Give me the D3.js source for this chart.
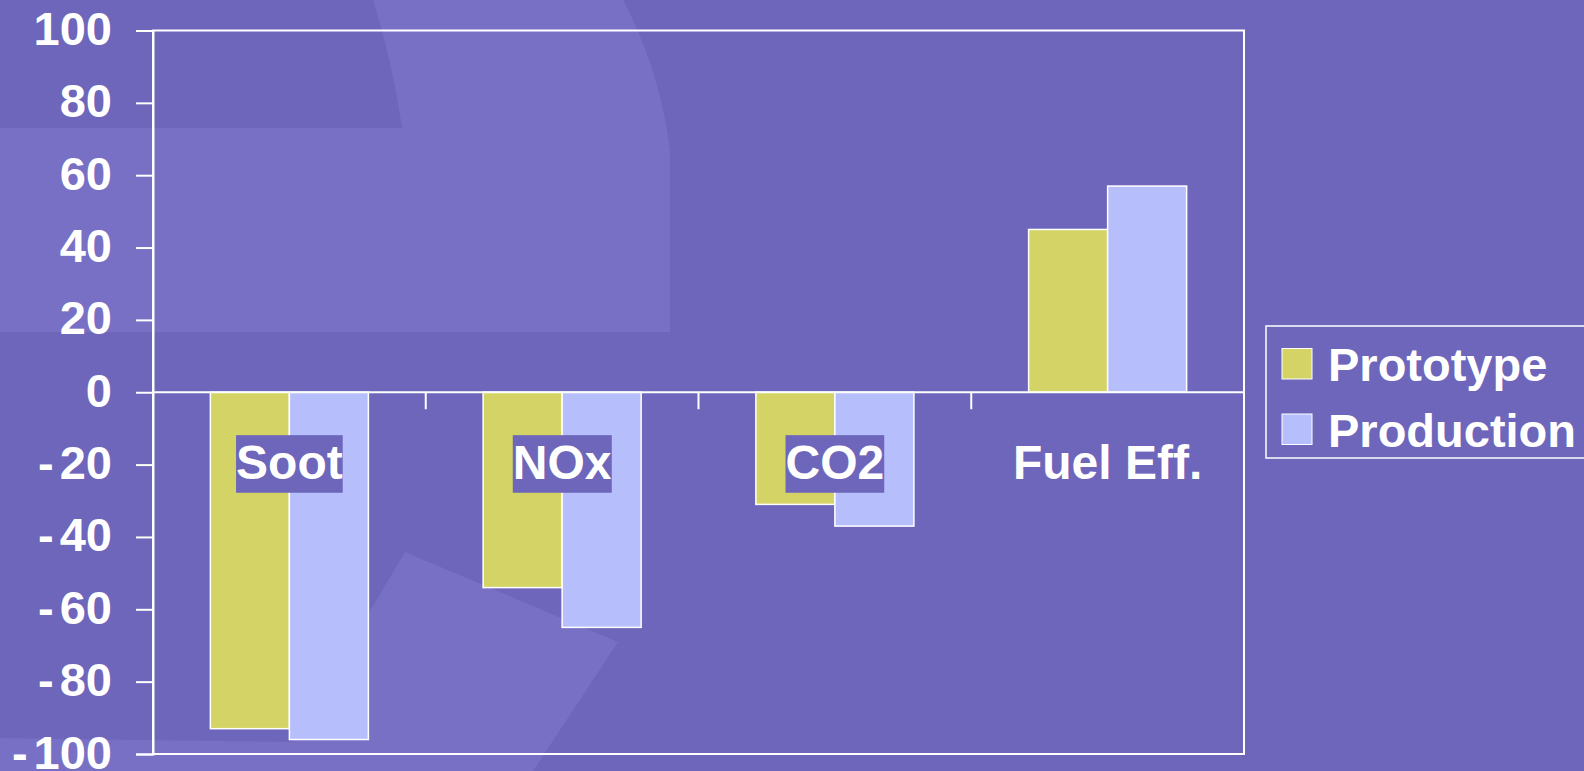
<!DOCTYPE html>
<meta charset="utf-8">
<head>
	<title>Prototype vs Production</title>
	<script type="text/javascript" src="https://cdn.jsdelivr.net/npm/d3@7/dist/d3.min.js"></script>
	<style>
		html, body { margin: 0; padding: 0; background: #6d66bb; overflow: hidden; }
		svg { display: block; font-family: "Liberation Sans", Arial, sans-serif; font-weight: bold; }
	</style>
</head>

<body>
	<div id="chart"></div>

<script>
	// data
	var categories = ["Soot", "NOx", "CO2", "Fuel Eff."];
	var series = ["Prototype", "Production"];
	var prototype = [-93, -54, -31, 45];
	var production = [-96, -65, -37, 57];
	var yTicks = [100, 80, 60, 40, 20, 0, -20, -40, -60, -80, -100];

	var colours = { Prototype: "#d4d466", Production: "#b6bffb" };
	var bg = "#6d66bb", bgLight = "#7770c4";

	var width = 1584, height = 771;
	var plot = { left: 153, right: 1244, top: 30.5, bottom: 754 };

	var svg = d3.select("#chart").append("svg")
		.attr("width", width)
		.attr("height", height);

	svg.append("rect")
		.attr("width", width)
		.attr("height", height)
		.attr("fill", bg);

	// faint slide background shapes
	svg.append("path")
		.attr("fill", bgLight)
		.attr("d", "M373,0 Q392,60 402,128 L0,128 L0,332 L670,332 L670,150 Q660,70 623,0 Z");
	svg.append("path")
		.attr("fill", bgLight)
		.attr("d", "M405,552 L618,642 L533,771 L0,771 L0,738 L292,742 Z");

	var y = d3.scaleLinear()
		.domain([-100, 100])
		.range([plot.bottom, plot.top]);

	var x0 = d3.scaleBand()
		.domain(categories)
		.range([plot.left, plot.right]);

	var x1 = d3.scaleBand()
		.domain(series)
		.range([0, x0.bandwidth()])
		.paddingOuter(0.726);

	var rows = categories.map(function(c, i) {
		return { cat: c, values: [
			{ key: "Prototype", value: prototype[i] },
			{ key: "Production", value: production[i] }
		]};
	});

	// plot frame
	svg.append("rect")
		.attr("x", plot.left)
		.attr("y", plot.top)
		.attr("width", plot.right - plot.left)
		.attr("height", plot.bottom - plot.top)
		.attr("fill", "none")
		.attr("stroke", "#fff")
		.attr("stroke-width", 2);

	// bars
	var g = svg.append("g");
	g.selectAll("g.cat")
		.data(rows)
		.enter().append("g")
			.attr("class", "cat")
			.attr("transform", function(d) { return "translate(" + x0(d.cat) + ",0)"; })
		.selectAll("rect")
		.data(function(d) { return d.values; })
		.enter().append("rect")
			.attr("x", function(d) { return x1(d.key); })
			.attr("width", x1.bandwidth())
			.attr("y", function(d) { return y(Math.max(0, d.value)); })
			.attr("height", function(d) { return Math.abs(y(d.value) - y(0)); })
			.attr("fill", function(d) { return colours[d.key]; })
			.attr("stroke", "#fff")
			.attr("stroke-width", 1.5);

	// zero line with category ticks
	svg.append("line")
		.attr("x1", plot.left).attr("x2", plot.right)
		.attr("y1", y(0)).attr("y2", y(0))
		.attr("stroke", "#fff").attr("stroke-width", 2);

	svg.selectAll("line.xtick")
		.data(categories.slice(1))
		.enter().append("line")
			.attr("class", "xtick")
			.attr("x1", function(d) { return x0(d); })
			.attr("x2", function(d) { return x0(d); })
			.attr("y1", y(0))
			.attr("y2", y(0) + 17)
			.attr("stroke", "#fff")
			.attr("stroke-width", 2);

	// y axis
	var yAxis = svg.append("g")
		.attr("transform", "translate(" + plot.left + ",0)")
		.call(d3.axisLeft(y).tickValues(yTicks).tickSize(17).tickFormat(""));
	yAxis.select(".domain").attr("stroke", "#fff").attr("stroke-width", 2);
	yAxis.selectAll(".tick line").attr("stroke", "#fff").attr("stroke-width", 2);

	yAxis.selectAll(".tick").append("text")
		.attr("x", -41)
		.attr("y", 14)
		.attr("fill", "#fff")
		.attr("text-anchor", "end")
		.style("font-size", "47px")
		.each(function(d) {
			var t = d3.select(this);
			if (d < 0) {
				t.append("tspan").text("-");
				t.append("tspan").attr("dx", 6).text(Math.abs(d));
			} else {
				t.text(d);
			}
		});

	// category labels with boxes
	var labelY = y(-20) + 14;
	var fs = 48;
	var lab = svg.selectAll("g.catlabel")
		.data(categories)
		.enter().append("g")
			.attr("class", "catlabel");

	lab.append("rect")
		.attr("fill", bg);
	lab.append("text")
		.attr("x", function(d) { return x0(d) + x0.bandwidth() / 2; })
		.attr("y", labelY)
		.attr("text-anchor", "middle")
		.attr("fill", "#fff")
		.style("font-size", fs + "px")
		.text(function(d) { return d; });

	lab.each(function() {
		var gg = d3.select(this);
		var b = gg.select("text").node().getBBox();
		gg.select("rect")
			.attr("x", b.x)
			.attr("y", labelY - 0.905 * fs)
			.attr("width", b.width)
			.attr("height", 1.2 * fs);
	});

	// legend
	var legend = svg.append("g");
	legend.append("rect")
		.attr("x", 1266)
		.attr("y", 326)
		.attr("width", 340)
		.attr("height", 132)
		.attr("fill", bg)
		.attr("stroke", "#fff")
		.attr("stroke-width", 1.5);

	var li = legend.selectAll("g.item")
		.data(series)
		.enter().append("g")
			.attr("class", "item")
			.attr("transform", function(d, i) { return "translate(0," + (i * 65.5) + ")"; });

	li.append("rect")
		.attr("x", 1282)
		.attr("y", 348.5)
		.attr("width", 30)
		.attr("height", 30.5)
		.attr("fill", function(d) { return colours[d]; })
		.attr("stroke", "#fff")
		.attr("stroke-width", 1);

	li.append("text")
		.attr("x", 1328)
		.attr("y", 381)
		.attr("fill", "#fff")
		.style("font-size", "47px")
		.text(function(d) { return d; });
</script>
</body>
